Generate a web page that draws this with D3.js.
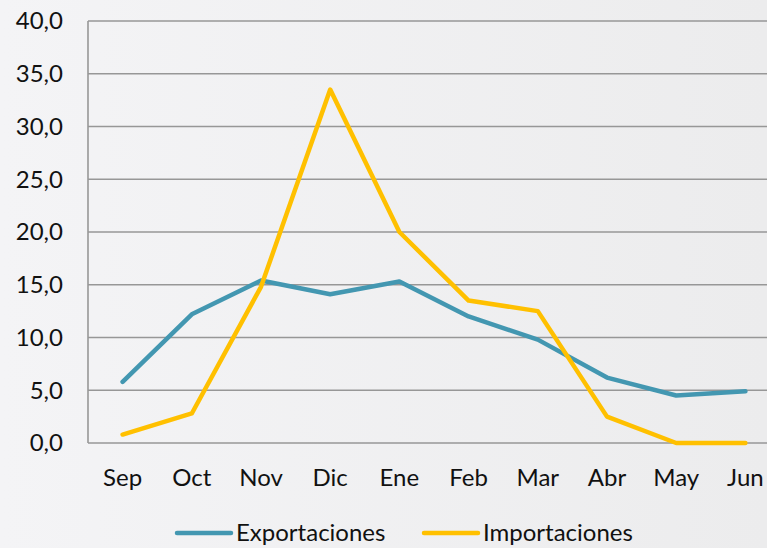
<!DOCTYPE html>
<html><head><meta charset="utf-8">
<script src="https://cdn.jsdelivr.net/npm/d3@7"></script>
<style>html,body{margin:0;padding:0;background:#efeff0;overflow:hidden}</style>
</head><body>
<svg id="c" width="767" height="548"></svg>
<script>
const months = ["Sep","Oct","Nov","Dic","Ene","Feb","Mar","Abr","May","Jun"];
const exportaciones = [5.8,12.2,15.4,14.1,15.3,12.0,9.8,6.2,4.5,4.9];
const importaciones = [0.8,2.8,14.8,33.5,20.0,13.5,12.5,2.5,0.0,0.0];
const yTicks = [0,5,10,15,20,25,30,35,40];
const seriesNames = ["Exportaciones","Importaciones"];
const colors = ["#4397b1","#ffc000"];

const svg = d3.select("#c");
const font = "Lato, 'Open Sans', sans-serif";
const fs = 24;
const defs = svg.append("defs");
const g1 = defs.append("linearGradient").attr("id","bg").attr("x1","0").attr("x2","1");
g1.append("stop").attr("offset","0").attr("stop-color","#f4f4f6");
g1.append("stop").attr("offset","1").attr("stop-color","#ececed");
svg.append("rect").attr("width",767).attr("height",548).attr("fill","url(#bg)");

const x = d3.scaleBand().domain(months).range([88,780]);
const y = d3.scaleLinear().domain([0,40]).range([443,21]);

// gridlines
svg.append("g").selectAll("line").data(yTicks).join("line")
  .attr("x1",88).attr("x2",767).attr("y1",d=>y(d)).attr("y2",d=>y(d))
  .attr("stroke","#979797").attr("stroke-width",1.6);
svg.append("line").attr("x1",88).attr("x2",88).attr("y1",y(40)).attr("y2",y(0))
  .attr("stroke","#979797").attr("stroke-width",1.6);

// y labels
svg.append("g").selectAll("text").data(yTicks).join("text")
  .attr("x",63).attr("y",d=>y(d)).attr("dy","0.35em").attr("text-anchor","end")
  .attr("font-family",font).attr("font-size",fs).attr("fill","#111")
  .text(d=>d.toFixed(1).replace(".",","));

// x labels
svg.append("g").selectAll("text").data(months).join("text")
  .attr("x",d=>x(d)+x.bandwidth()/2).attr("y",486).attr("text-anchor","middle")
  .attr("font-family",font).attr("font-size",fs).attr("fill","#111")
  .text(d=>d);

const line = d3.line().x((d,i)=>x(months[i])+x.bandwidth()/2).y(d=>y(d));
[exportaciones, importaciones].forEach((s,k)=>{
  svg.append("path").datum(s).attr("d",line).attr("fill","none")
    .attr("stroke",colors[k]).attr("stroke-width",4.5)
    .attr("stroke-linejoin","round").attr("stroke-linecap","round");
});

// legend
const legX = [177, 424];
seriesNames.forEach((n,k)=>{
  svg.append("line").attr("x1",legX[k]).attr("x2",legX[k]+54).attr("y1",533).attr("y2",533)
    .attr("stroke",colors[k]).attr("stroke-width",4.5).attr("stroke-linecap","round");
  svg.append("text").attr("x",legX[k]+59).attr("y",541)
    .attr("font-family",font).attr("font-size",fs).attr("fill","#111").text(n);
});
</script>
</body></html>
